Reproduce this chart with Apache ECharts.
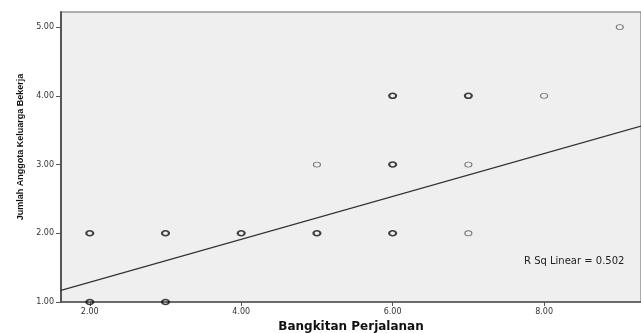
<!DOCTYPE html>
<html><head><meta charset="utf-8">
<script src="https://cdn.jsdelivr.net/npm/echarts@6/dist/echarts.min.js"></script>
<style>html,body{margin:0;padding:0;background:#fff}#c{width:641px;height:333px}</style>
</head><body><div id="c"></div>
<script>
// Points observed more than once (drawn bold) and single points (drawn thin)
const multiX = [2, 2, 3, 3, 4, 5, 6, 6, 6, 7];
const multiY = [1, 2, 1, 2, 2, 2, 2, 3, 4, 4];
const singleX = [5, 7, 7, 8, 9];
const singleY = [3, 2, 3, 4, 5];
// Linear fit line endpoints
const fitX = [1.62, 9.28];
const fitY = [1.17, 3.56];
const xTicks = [2, 4, 6, 8];
const yTicks = [1, 2, 3, 4, 5];
const xName = 'Bangkitan Perjalanan';
const yName = 'Jumlah Anggota Keluarga Bekerja';
const rsqText = 'R Sq Linear = 0.502';

const chart = echarts.init(document.getElementById('c'));
const zip = (a, b) => a.map((v, i) => [v, b[i]]);
chart.setOption({
  animation: false,
  grid: {left: 61, top: 12, right: 0, bottom: 31, outerBoundsMode: 'none', containLabel: false,
    show: true, backgroundColor: '#efefef', borderColor: '#666', borderWidth: 1},
  xAxis: {
    type: 'value', min: 1.62, max: 9.28, interval: 2,
    axisLine: {show: true, onZero: false, lineStyle: {color: '#555', width: 1.5}},
    axisTick: {show: true, length: 4, lineStyle: {color: '#555'}, customValues: xTicks},
    axisLabel: {show: true, fontFamily: 'DejaVu Sans', fontSize: 8, color: '#333', margin: 6,
      customValues: xTicks, formatter: v => v.toFixed(2)},
    splitLine: {show: false},
    name: xName, nameLocation: 'middle', nameGap: 18,
    nameTextStyle: {fontFamily: 'DejaVu Sans', fontWeight: 'bold', fontSize: 12, color: '#111'}
  },
  yAxis: {
    type: 'value', min: 1, max: 5.22,
    axisLine: {show: true, onZero: false, lineStyle: {color: '#555', width: 2}},
    axisTick: {show: true, length: 5, lineStyle: {color: '#555'}, customValues: yTicks},
    axisLabel: {show: true, fontFamily: 'DejaVu Sans', fontSize: 8, color: '#333', margin: 7,
      customValues: yTicks, formatter: v => v.toFixed(2)},
    splitLine: {show: false},
    name: yName, nameLocation: 'middle', nameGap: 36, nameRotate: 90,
    nameTextStyle: {fontFamily: 'Liberation Sans', fontWeight: 'bold', fontSize: 9, color: '#111', padding: [0, 0, 0, 20]}
  },
  series: [
    {type: 'line', data: zip(fitX, fitY), symbol: 'none', lineStyle: {color: '#333', width: 1.2}, z: 2},
    {type: 'scatter', data: zip(multiX, multiY), symbol: 'circle', symbolSize: [7, 5],
      itemStyle: {color: 'rgba(0,0,0,0)', borderColor: '#111', borderWidth: 1.8}, z: 3},
    {type: 'scatter', data: zip(singleX, singleY), symbol: 'circle', symbolSize: [7, 5],
      itemStyle: {color: 'rgba(0,0,0,0)', borderColor: '#555', borderWidth: 1}, z: 3}
  ],
  graphic: [{type: 'text', left: 524, top: 256, style: {text: rsqText, fontFamily: 'DejaVu Sans', fontSize: 10, fill: '#222'}}]
});
</script></body></html>
